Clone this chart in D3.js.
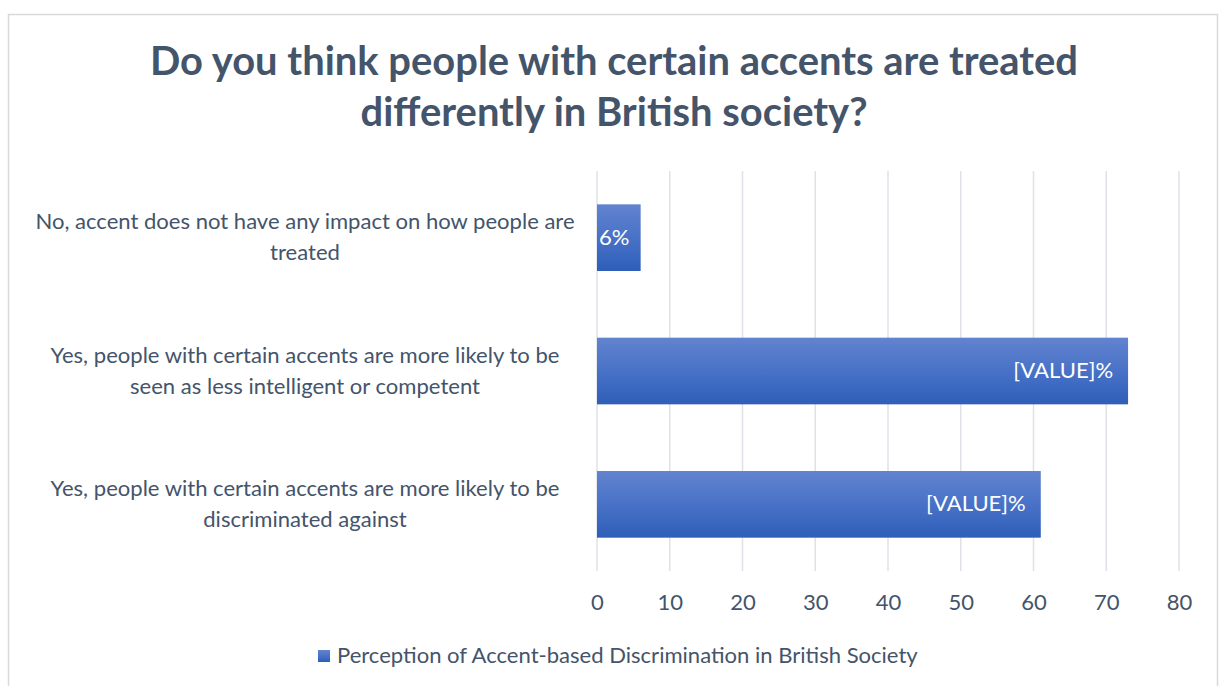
<!DOCTYPE html>
<html>
<head>
<meta charset="utf-8">
<script src="https://cdn.jsdelivr.net/npm/d3@7"></script>
<style>
  html, body { margin: 0; padding: 0; background: #fff; }
  svg { display: block; }
  text { font-family: Lato, "Open Sans", sans-serif; }
</style>
</head>
<body>
<script>
// Survey responses: category labels (wrapped lines), shares in percent, label text
const categories = [
  ["No, accent does not have any impact on how people are", "treated"],
  ["Yes, people with certain accents are more likely to be", "seen as less intelligent or competent"],
  ["Yes, people with certain accents are more likely to be", "discriminated against"]
];
const values = [6, 73, 61];
const valueLabels = ["6%", "[VALUE]%", "[VALUE]%"];
const xTicks = [0, 10, 20, 30, 40, 50, 60, 70, 80];
const titleLines = ["Do you think people with certain accents are treated", "differently in British society?"];
const seriesName = "Perception of Accent-based Discrimination in British Society";

const W = 1221, H = 686;
const plot = { left: 597, right: 1179, top: 171, bottom: 571 };
const textColor = "#44546A";

const svg = d3.select("body").append("svg").attr("width", W).attr("height", H);

// Scale a text element's font size so its rendered width equals the given width
function fitWidth(sel, width) {
  sel.each(function () {
    const fs = parseFloat(d3.select(this).attr("font-size"));
    const w = this.getComputedTextLength();
    d3.select(this).attr("font-size", (fs * width / w).toFixed(2));
  });
}

const defs = svg.append("defs");
const grad = defs.append("linearGradient").attr("id", "barGrad")
  .attr("x1", 0).attr("y1", 0).attr("x2", 0).attr("y2", 1);
grad.append("stop").attr("offset", "0%").attr("stop-color", "#6283CF");
grad.append("stop").attr("offset", "55%").attr("stop-color", "#4670C6");
grad.append("stop").attr("offset", "100%").attr("stop-color", "#2E5EB8");

// Chart frame
svg.append("rect").attr("x", 8.5).attr("y", 14.5).attr("width", 1209).attr("height", 700)
  .attr("fill", "#fff").attr("stroke", "#D9D9D9").attr("stroke-width", 1.5);

// Title
const title = svg.append("g").selectAll("text").data(titleLines).join("text")
  .attr("x", 614).attr("y", (d, i) => 75 + i * 51)
  .attr("text-anchor", "middle")
  .attr("font-size", 36).attr("font-weight", 700)
  .attr("fill", textColor)
  .text(d => d);
const titleFs = 36 * 928 / title.nodes()[0].getComputedTextLength();
title.attr("font-size", titleFs.toFixed(2));

const x = d3.scaleLinear().domain([0, 80]).range([plot.left, plot.right]);
const y = d3.scaleBand().domain(d3.range(categories.length))
  .range([plot.top, plot.bottom]).paddingInner(0.5).paddingOuter(0.25);

// Vertical gridlines
svg.append("g").selectAll("line").data(xTicks).join("line")
  .attr("x1", d => x(d)).attr("x2", d => x(d))
  .attr("y1", plot.top).attr("y2", plot.bottom)
  .attr("stroke", "#DEE2E8").attr("stroke-width", 1.5);

// Body text size: legend label sized to its width, reused for all other text
const lg = svg.append("g").attr("transform", "translate(318,650)");
lg.append("rect").attr("width", 12).attr("height", 12).attr("fill", "url(#barGrad)");
const lgText = lg.append("text").attr("x", 19).attr("y", 13)
  .attr("font-size", 20).attr("fill", textColor).text(seriesName);
fitWidth(lgText, 581);
const bodyFs = parseFloat(lgText.attr("font-size"));

// X axis tick labels
const xAxis = d3.axisBottom(x).tickValues(xTicks).tickSize(0).tickPadding(0);
const gx = svg.append("g").attr("transform", `translate(0,${plot.bottom + 39})`).call(xAxis);
gx.select(".domain").remove();
gx.selectAll("text").attr("font-size", bodyFs).attr("fill", textColor)
  .attr("font-family", 'Lato, "Open Sans", sans-serif').attr("dy", 0);

// Bars
svg.append("g").selectAll("rect").data(values).join("rect")
  .attr("x", x(0))
  .attr("y", (d, i) => y(i))
  .attr("width", d => x(d) - x(0))
  .attr("height", y.bandwidth())
  .attr("fill", "url(#barGrad)");

// Value labels inside bar ends; short bars keep the label starting at the bar's base
svg.append("g").selectAll("text").data(values).join("text")
  .attr("y", (d, i) => y(i) + y.bandwidth() / 2 + 7)
  .attr("text-anchor", "start")
  .attr("font-size", bodyFs).attr("fill", "#fff")
  .text((d, i) => valueLabels[i])
  .attr("x", function (d) {
    const w = this.getComputedTextLength();
    return Math.max(x(d) - 15 - w, x(0) + 2);
  });

// Category labels
const catG = svg.append("g");
categories.forEach((lines, i) => {
  const cy = y(i) + y.bandwidth() / 2;
  catG.selectAll(null).data(lines).join("text")
    .attr("x", 305)
    .attr("y", (d, j) => cy + (j - (lines.length - 1) / 2) * 31 + 7)
    .attr("text-anchor", "middle")
    .attr("font-size", bodyFs).attr("fill", textColor)
    .text(d => d);
});
</script>
</body>
</html>
